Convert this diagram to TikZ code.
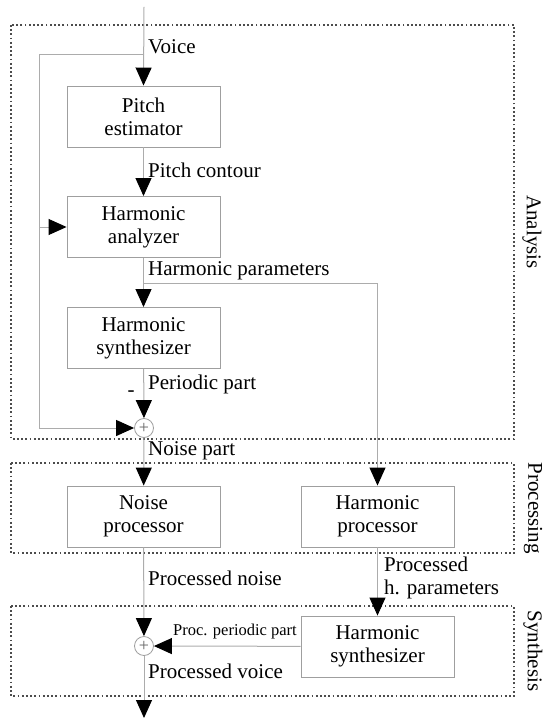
\documentclass[tikz,border=0pt]{standalone}
\usepackage{fontspec}
\setmainfont{Liberation Serif}
\newfontfamily\tms{Liberation Serif}
\usetikzlibrary{arrows.meta}
\begin{document}
\begin{tikzpicture}[x=1pt,y=-1pt,
 blk/.style={draw=gray!75, line width=0.9pt, minimum width=153pt, minimum height=61pt, align=center, inner sep=0pt, font=\tms\fontsize{21}{23}\selectfont},
 ln/.style={draw=gray!65, line width=1pt},
 arr/.style={ln, -{Triangle[width=16pt,length=18pt,color=black]}},
 lbl/.style={font=\tms\fontsize{21}{23}\selectfont, inner sep=0pt, anchor=west},
 grp/.style={draw=gray!60!black, line width=1.1pt, dash pattern=on 1.8pt off 2.4pt},
 sumc/.style={circle, draw=gray!75, line width=0.8pt, minimum size=19pt, inner sep=0pt, font=\tms\fontsize{18}{18}\selectfont, text=gray!80!black},
 side/.style={font=\tms\fontsize{21}{23}\selectfont, inner sep=0pt, rotate=-90, anchor=center}
]
\useasboundingbox (0,0) rectangle (544,719);

% group frames
\draw[grp] (11,25) rectangle (514,439);
\draw[grp] (11,463) rectangle (514,553);
\draw[grp] (11,606) rectangle (514,696);
\node[side] (tan) at (532,232) {Analysis};
\node[side] (tpr) at (533,508) {Processing};
\node[side] (tsy) at (533,651) {Synthesis};

% blocks
\node[blk] (pe) at (143.5,116.5) {Pitch\\estimator};
\node[blk] (ha) at (143.5,227) {Harmonic\\analyzer};
\node[blk] (hs) at (143.5,338) {Harmonic\\synthesizer};
\node[sumc] (s1) at (144,428) {+};
\node[blk] (np) at (143.5,516.5) {Noise\\processor};
\node[blk] (hp) at (377.5,516.5) {Harmonic\\processor};
\node[blk] (hs2) at (377.5,646.5) {Harmonic\\synthesizer};
\node[sumc] (s2) at (144,646) {+};

% helper coordinates
\coordinate (top) at (144,7);
\coordinate (fb) at (144,55);
\coordinate (fbl) at (39,55);
\coordinate (br) at (144,283);
\coordinate (out) at (144,718);

% connectors
\draw[arr] (top) -- (pe.north);
\draw[ln] (fb) -- (fbl);
\draw[arr] (fbl) |- (s1.west);
\draw[arr] (fbl |- ha.west) -- (ha.west);
\draw[arr] (pe) -- (ha);
\draw[arr] (ha) -- (hs);
\draw[arr] (br) -| (hp.north);
\draw[arr] (hs) -- (s1);
\draw[arr] (s1) -- (np);
\draw[arr] (np) -- (s2);
\draw[arr] (hp) -- (hs2);
\draw[arr] (hs2) -- (s2);
\draw[arr] (s2) -- (out);

% labels
\node[lbl] (lv) at (148,47) {Voice};
\node[lbl] (lpc) at (148,170) {Pitch contour};
\node[lbl] (lhp) at (148,271) {Harmonic parameters};
\node[lbl] (lpp) at (148,384) {Periodic part};
\node[lbl,anchor=center] (lm) at (131,394) {-};
\node[lbl] (lnp) at (148,451) {Noise part};
\node[lbl] (lpn) at (148,578) {Processed noise};
\node[lbl,align=left] (lph) at (384,578) {Processed\\h. parameters};
\node[lbl] (lpv) at (148,671) {Processed voice};
\node[lbl,anchor=east,font=\tms\fontsize{16.5}{18}\selectfont] (lpper) at (297,632) {Proc. periodic part};
\end{tikzpicture}
\end{document}
